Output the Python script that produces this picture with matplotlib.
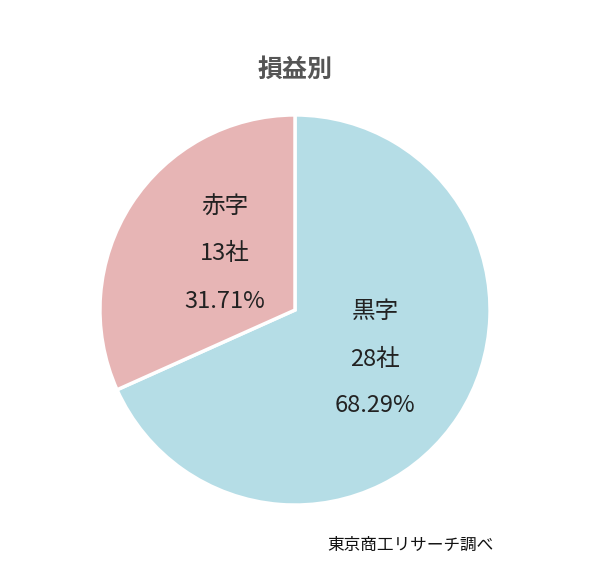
import matplotlib
matplotlib.use("Agg")
import matplotlib.pyplot as plt

plt.rcParams["font.family"] = ["Noto Sans CJK JP", "DejaVu Sans"]

labels = ["黒字", "赤字"]
counts = [28, 13]
shares = [68.29, 31.71]
colors = ["#b5dde6", "#e7b5b5"]

W, H = 600, 587
fig = plt.figure(figsize=(6, 5.87), dpi=100)
cx, cy, r = 295, 310, 197
ax = fig.add_axes([(cx - r) / W, (H - cy - r) / H, 2 * r / W, 2 * r / H])
ax.pie(counts, colors=colors, startangle=90, counterclock=False, radius=1,
       wedgeprops={"edgecolor": "white", "linewidth": 2.5})
ax.set_xlim(-1.01, 1.01)
ax.set_ylim(-1.01, 1.01)
ax.set_aspect("auto")
ax.axis("off")

label_pos = [(375, 312), (225, 207)]
for (x, y), lab, n, s in zip(label_pos, labels, counts, shares):
    for i, t in enumerate([lab, f"{n}社", f"{s:.2f}%"]):
        fig.text(x / W, 1 - (y + i * 47) / H, t, ha="center", va="center",
                 fontsize=17, color="#222222")

fig.text(295 / W, 1 - 70 / H, "損益別", ha="center", va="center",
         fontsize=18, fontweight="bold", color="#555555")
fig.text(410 / W, 1 - 545 / H, "東京商工リサーチ調べ", ha="center", va="center",
         fontsize=12, color="#111111")

fig.savefig("out.png")
